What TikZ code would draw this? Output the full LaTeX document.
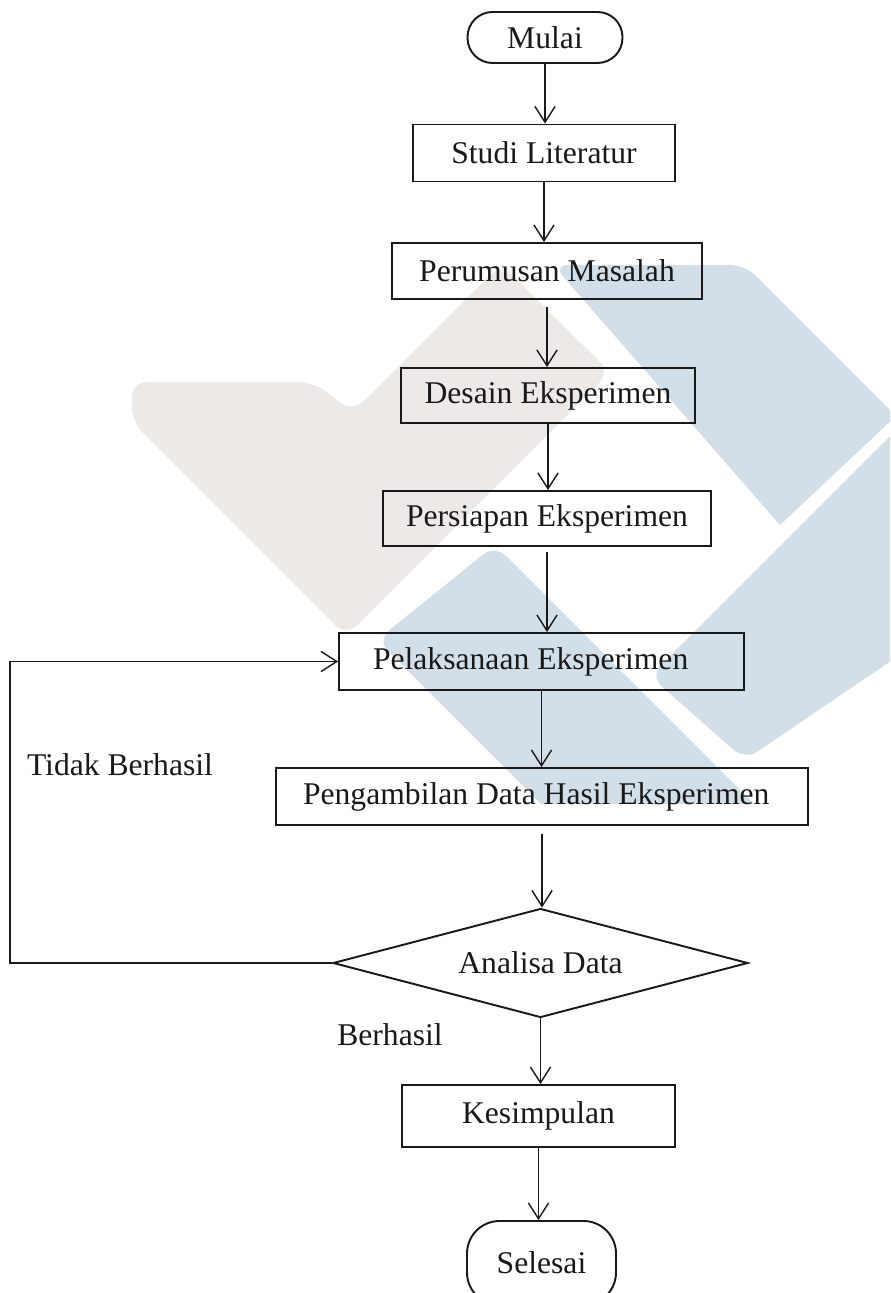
\documentclass[tikz,border=0pt]{standalone}
\usepackage{fontspec}
\setmainfont{Liberation Serif}
\usetikzlibrary{shapes.geometric,arrows.meta}

\definecolor{tanda}{RGB}{236,233,231}
\definecolor{tandabiru}{RGB}{210,223,233}
\definecolor{tinta}{RGB}{25,25,25}

\tikzset{
	kotak/.style={draw=tinta, line width=1.1pt, text=tinta, inner sep=0pt},
	kiri/.style={kotak, align=flush left},
	terminal/.style={kotak, rounded corners=0.5cm},
	keputusan/.style={kotak, diamond, aspect=3.8},
	alur/.style={draw=tinta, line width=0.8pt, -{Straight Barb[length=9pt,width=11.5pt]}}
}

\begin{document}
\begin{tikzpicture}[x=0.02cm, y=-0.02cm, font=\fontsize{18}{22}\selectfont]
	\useasboundingbox (0,0) rectangle (890,1293);
	\clip (0,0) rectangle (890,1293);

	% watermark behind the chart
	\begin{scope}
		\clip (130,258) rectangle (890,803);
		\fill[tanda, rounded corners=0.3cm] (132,382) -- (313,382) -- (353,412) -- (501,264) -- (610,372) -- (346,636) -- (132,422) -- cycle;
		\fill[tandabiru, rounded corners=0.3cm] (780,525) -- (553,265) -- (745,265) [sharp corners] -- (896,416) -- cycle;
		\fill[tandabiru, rounded corners=0.3cm] (377,640) -- (495,545) -- (800,850) -- (640,903) -- cycle;
		\fill[tandabiru, rounded corners=0.3cm] (650,676) -- (910,416) -- (910,648) -- (745,760) -- cycle;
	\end{scope}

	\coordinate (kiri) at (10,0);

	% the steps
	\node[terminal, minimum width=3.1cm, minimum height=1.02cm] (mulai) at (545,37.5) {Mulai};
	\node[kotak, minimum width=5.24cm, minimum height=1.14cm] (studi) at (544,153) {Studi Literatur};
	\node[kotak, minimum width=6.2cm, minimum height=1.12cm] (rumusan) at (547,271) {Perumusan Masalah};
	\node[kotak, minimum width=5.88cm, minimum height=1.1cm] (desain) at (548,395.5) {Desain Eksperimen};
	\node[kotak, minimum width=6.56cm, minimum height=1.1cm] (persiapan) at (547,518.5) {Persiapan Eksperimen};
	\node[kiri, text width=6.74cm, inner xsep=0.68cm, minimum height=1.14cm] (pelaksanaan) at (541.5,661.5) {Pelaksanaan Eksperimen};
	\node[kiri, text width=9.56cm, inner xsep=0.54cm, minimum height=1.14cm] (pengambilan) at (542,796.5) {Pengambilan Data Hasil Eksperimen};
	\node[keputusan, minimum width=8.3cm, minimum height=2.18cm] (analisa) at (540.5,963) {Analisa Data};
	\node[kotak, minimum width=5.46cm, minimum height=1.24cm] (simpulan) at (538.5,1116) {Kesimpulan};
	\node[kotak, rounded corners=0.65cm, minimum width=2.98cm, minimum height=1.68cm] (selesai) at (541.5,1263) {Selesai};

	\node[text=tinta] (gagal) at (120,765) {Tidak Berhasil};
	\node[text=tinta] (berhasil) at (390,1035) {Berhasil};

	% arrows
	\draw[alur] (mulai) -- (mulai |- studi.north);
	\draw[alur] (studi) -- (studi |- rumusan.north);
	\draw[alur, shorten <=4pt] (rumusan) -- (rumusan |- desain.north);
	\draw[alur] (desain) -- (desain |- persiapan.north);
	\draw[alur, shorten <=3pt] (persiapan) -- (persiapan |- pelaksanaan.north);
	\draw[alur] (pelaksanaan) -- (pelaksanaan |- pengambilan.north);
	\draw[alur, shorten <=4.5pt] (pengambilan) -- (pengambilan |- analisa.north);
	\draw[alur] (analisa) -- (analisa |- simpulan.north);
	\draw[alur] (simpulan) -- (simpulan |- selesai.north);
	\draw[alur] (analisa.west) -- (analisa.west -| kiri) |- (pelaksanaan.west);
\end{tikzpicture}
\end{document}
